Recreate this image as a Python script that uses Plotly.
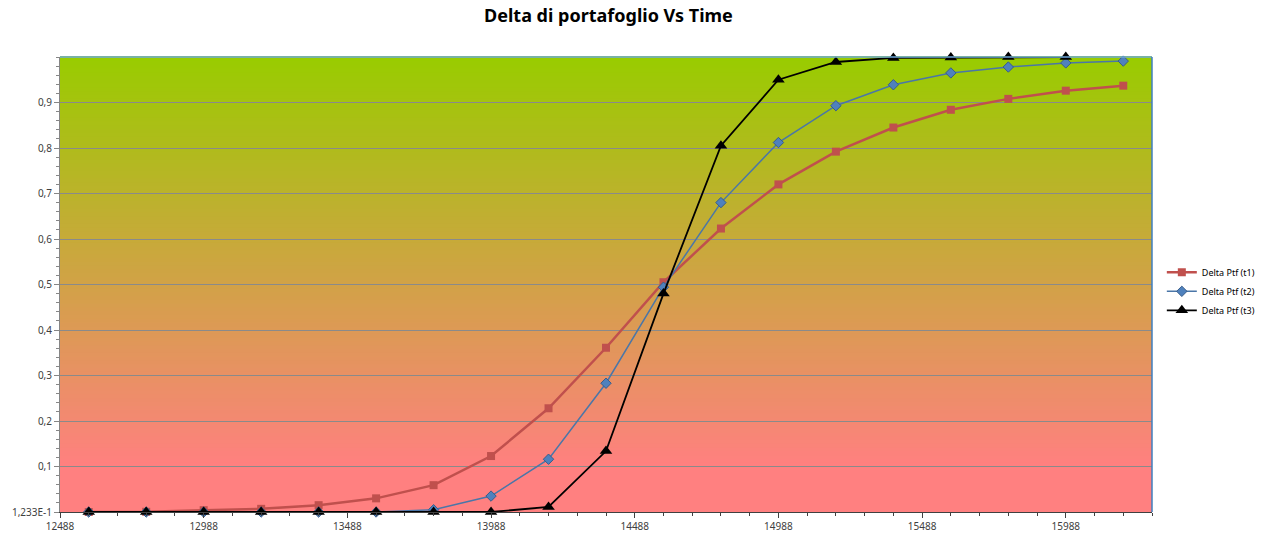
import plotly.graph_objects as go

x_t1 = [12588, 12788, 12988, 13188, 13388, 13588, 13788, 13988, 14188, 14388,
        14588, 14788, 14988, 15188, 15388, 15588, 15788, 15988, 16188]
delta_t1 = [0.0, 0.0005, 0.004, 0.007, 0.015, 0.03, 0.059, 0.123, 0.228, 0.361,
            0.505, 0.623, 0.72, 0.792, 0.845, 0.884, 0.908, 0.926, 0.937]
x_t2 = x_t1
delta_t2 = [0.0, 0.0, 0.0, 0.0, 0.0, 0.0, 0.005, 0.035, 0.116, 0.283,
            0.494, 0.68, 0.812, 0.893, 0.939, 0.965, 0.978, 0.987, 0.991]
x_t3 = x_t1[:18]
delta_t3 = [0.0, 0.0, 0.0, 0.0, 0.0, 0.0, 0.0, 0.0, 0.011, 0.134,
            0.48, 0.805, 0.95, 0.989, 0.998, 0.999, 1.0, 1.0]

y_tickvals = [0, 0.1, 0.2, 0.3, 0.4, 0.5, 0.6, 0.7, 0.8, 0.9]
y_ticktext = ["1,233E-1", "0,1", "0,2", "0,3", "0,4", "0,5", "0,6", "0,7", "0,8", "0,9"]
x_tickvals = [12488, 12988, 13488, 13988, 14488, 14988, 15488, 15988]

FONT = "Noto Sans"

fig = go.Figure()
fig.add_trace(go.Scatter(x=x_t1, y=delta_t1, name="Delta Ptf (t1)", mode="lines+markers",
                         line=dict(color="#C0504D", width=2.5), cliponaxis=False,
                         marker=dict(symbol="square", size=8, color="#C0504D")))
fig.add_trace(go.Scatter(x=x_t2, y=delta_t2, name="Delta Ptf (t2)", mode="lines+markers",
                         line=dict(color="#4A76A8", width=1.5), cliponaxis=False,
                         marker=dict(symbol="diamond", size=8, color="#4F81BD",
                                     line=dict(color="#385D8A", width=1))))
fig.add_trace(go.Scatter(x=x_t3, y=delta_t3, name="Delta Ptf (t3)", mode="lines+markers",
                         line=dict(color="#000000", width=1.8), cliponaxis=False,
                         marker=dict(symbol="triangle-up", size=11, color="#000000")))

# gradient background
shapes = []
top = (153, 204, 0)
bot = (255, 128, 128)
N = 120
for i in range(N):
    y0 = i / N
    y1 = (i + 1) / N
    ym = (y0 + y1) / 2
    t = (ym - 0.1) / 0.9
    t = max(0.0, min(1.0, t))
    c = tuple(int(round(bot[k] + (top[k] - bot[k]) * t)) for k in range(3))
    shapes.append(dict(type="rect", xref="x domain", yref="y domain", x0=0, x1=1,
                       y0=y0, y1=y1 + 0.002, fillcolor="rgb(%d,%d,%d)" % c,
                       line=dict(width=0), layer="below"))
shapes.append(dict(type="line", xref="x domain", yref="y domain", x0=0, x1=1, y0=1, y1=1,
                   line=dict(color="#6FA8DC", width=1.5), layer="above"))
shapes.append(dict(type="line", xref="x domain", yref="y domain", x0=1, x1=1, y0=0, y1=1,
                   line=dict(color="#3F7FBF", width=1.5), layer="above"))

fig.update_layout(
    width=1265, height=537,
    margin=dict(l=60, r=113, t=57, b=25, autoexpand=False),
    paper_bgcolor="white", plot_bgcolor="white",
    shapes=shapes,
    title=dict(text="<b>Delta di portafoglio Vs Time</b>", x=0.481, xanchor="center",
               xref="container",
               y=1 - 16 / 537, yanchor="middle", font=dict(family=FONT, size=18, color="#000000")),
    font=dict(family=FONT, size=10, color="#404040"),
    showlegend=True,
    legend=dict(x=1.009, xanchor="left", y=0.485, yanchor="middle", bgcolor="rgba(0,0,0,0)",
                font=dict(family=FONT, size=9, color="#000000"), itemwidth=30,
                tracegroupgap=0),
    xaxis=dict(range=[12488, 16288], tickvals=x_tickvals, ticktext=[str(v) for v in x_tickvals],
               showgrid=False, zeroline=False, showline=True, linecolor="#404040", linewidth=1,
               ticks="outside", ticklen=5, tickcolor="#404040", automargin=False,
               minor=dict(dtick=100, tick0=12488, ticks="outside", ticklen=3, tickcolor="#404040", showgrid=False),
               tickfont=dict(size=10, color="#404040")),
    yaxis=dict(range=[0, 1], tickvals=y_tickvals, ticktext=y_ticktext,
               showgrid=True, gridcolor="#8A8A8A", gridwidth=1, zeroline=False,
               showline=True, linecolor="#868686", linewidth=1, automargin=False,
               ticks="outside", ticklen=5, tickcolor="#868686",
               minor=dict(dtick=0.02, tick0=0, ticks="outside", ticklen=3, tickcolor="#868686", showgrid=False),
               tickfont=dict(size=10, color="#404040")),
)

fig.write_html("out.html", config={"displayModeBar": False},
               post_script="document.body.style.margin='0';document.body.style.overflow='hidden';")
